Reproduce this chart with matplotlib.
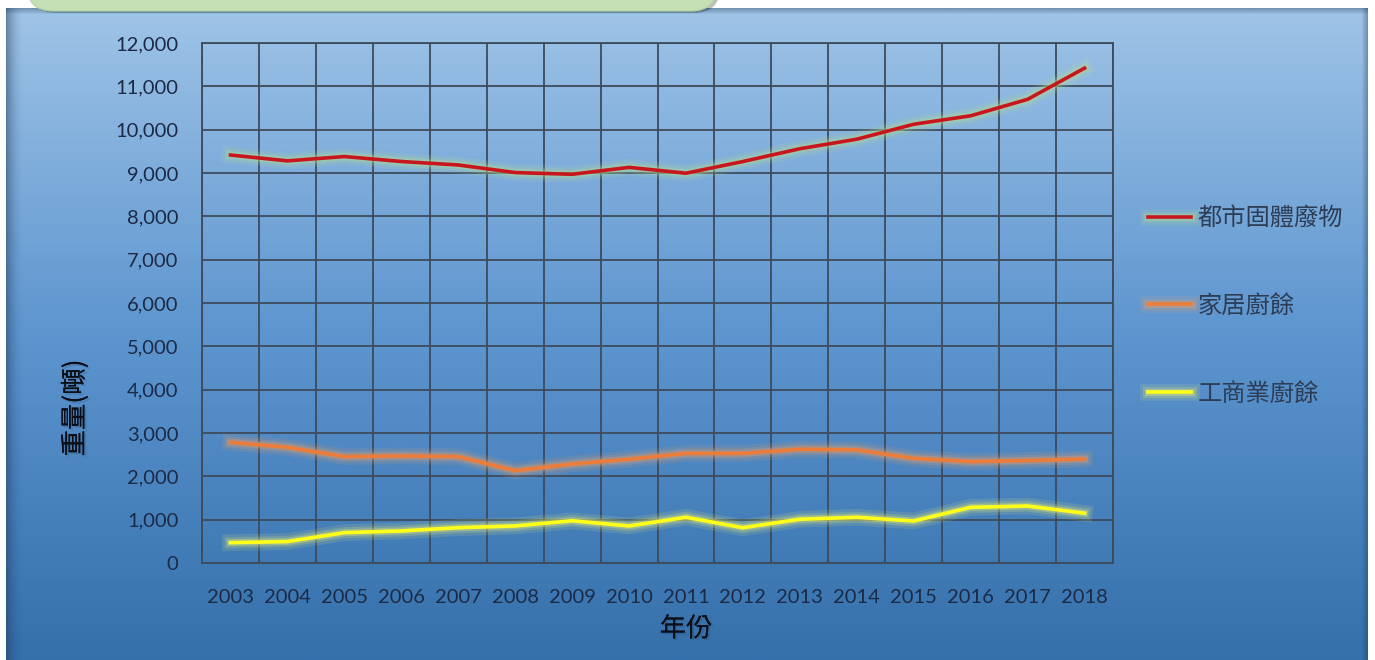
import numpy as np
import matplotlib
matplotlib.use("Agg")
import matplotlib.pyplot as plt
import matplotlib.patheffects as pe
from matplotlib.patches import FancyBboxPatch, Rectangle
from matplotlib.colors import LinearSegmentedColormap
from matplotlib.ticker import FuncFormatter, MultipleLocator

# ── Data ─────────────────────────────────────────────────────────────────────
years = ["2003", "2004", "2005", "2006", "2007", "2008", "2009", "2010",
         "2011", "2012", "2013", "2014", "2015", "2016", "2017", "2018"]
msw = [9415, 9280, 9380, 9265, 9185, 9010, 8970, 9130,
       8995, 9265, 9560, 9780, 10125, 10320, 10700, 11420]
household = [2785, 2670, 2455, 2470, 2455, 2130, 2285, 2395,
             2530, 2530, 2625, 2610, 2415, 2340, 2365, 2400]
commercial = [470, 495, 700, 740, 815, 855, 975, 855,
              1055, 815, 1010, 1055, 970, 1285, 1315, 1150]
series_names = ["都市固體廢物", "家居廚餘", "工商業廚餘"]

CJK = ["Noto Sans CJK TC", "DejaVu Sans"]
LAT = ["Lato", "Noto Sans CJK TC"]

W, H = 1375, 660
fig = plt.figure(figsize=(W / 100, H / 100), dpi=100)
fig.patch.set_facecolor("white")

# ── Background panel (pixel coordinates) ─────────────────────────────────────
bg = fig.add_axes([0, 0, 1, 1], zorder=0)
bg.set_xlim(0, W)
bg.set_ylim(H, 0)
bg.axis("off")
cmap = LinearSegmentedColormap.from_list(
    "panel", [(0, "#9FC4E7"), (0.5, "#5D95CF"), (1, "#3570AB")])
grad = np.linspace(0, 1, 256).reshape(-1, 1)
bg.imshow(grad, cmap=cmap, extent=(6, 1368, H, 8), aspect="auto", zorder=1)
# edge shading
for i in range(18):
    a = 0.45 * (1 - i / 18) ** 2
    bg.add_patch(Rectangle((6 + i, 8), 1, H, color="#1d3550", alpha=a, lw=0, zorder=2))
for i in range(6):
    a = 0.35 * (1 - i / 6)
    bg.add_patch(Rectangle((6, 8 + i), 1362, 1, color="#1d3550", alpha=a, lw=0, zorder=2))
    bg.add_patch(Rectangle((1367 - i, 8), 1, H, color="#1d3550", alpha=a, lw=0, zorder=2))
# green callout box at top
shadow = FancyBboxPatch((30, -40), 690, 53, boxstyle="round,pad=0,rounding_size=26",
                        fc="#000000", ec="none", alpha=0.25, zorder=3)
bg.add_patch(shadow)
bg.add_patch(FancyBboxPatch((27, -40), 690, 51, boxstyle="round,pad=0,rounding_size=26",
                            fc="#C5E0B4", ec="#B4D3A2", lw=0.8, zorder=4))

# ── Plot area ────────────────────────────────────────────────────────────────
ax = fig.add_axes([202 / W, 97 / H, 911 / W, 520 / H], zorder=1)
ax.patch.set_alpha(0)
x = np.arange(len(years))

styles = [
    (msw, "#C8161D", "#B8E08A"),
    (household, "#EC7C3A", "#F3A060"),
    (commercial, "#FFFF1A", "#F6F86A"),
]
for (vals, col, glow), name in zip(styles, series_names):
    ax.plot(x, vals, color=col, lw=2.6, solid_joinstyle="round", label=name, zorder=3,
            path_effects=[pe.Stroke(linewidth=12, foreground=glow, alpha=0.12),
                          pe.Stroke(linewidth=8, foreground=glow, alpha=0.18),
                          pe.Stroke(linewidth=5, foreground=glow, alpha=0.3),
                          pe.Normal()])

ax.set_xlim(-0.5, len(years) - 0.5)
ax.set_ylim(0, 12000)
ax.yaxis.set_major_locator(MultipleLocator(1000))
ax.yaxis.set_major_formatter(FuncFormatter(lambda v, p: f"{int(v):,}"))
ax.set_xticks(x)
ax.set_xticklabels(years)
ax.set_xticks(np.arange(-0.5, len(years), 1), minor=True)
ax.grid(True, which="minor", axis="x", color="#3D4B5C", lw=1.3)
ax.grid(True, which="major", axis="y", color="#3D4B5C", lw=1.3)
ax.set_axisbelow(True)
for s in ax.spines.values():
    s.set_color("#3D4B5C")
    s.set_linewidth(1.3)
ax.tick_params(which="both", length=0)
ax.tick_params(axis="x", pad=19)
ax.tick_params(axis="y", pad=17)
for lab in ax.get_xticklabels() + ax.get_yticklabels():
    lab.set_family(LAT)
    lab.set_fontsize(14.5)
    lab.set_color("#1B2A46")

# axis titles
shade = [pe.withSimplePatchShadow(offset=(1.5, -1.5), shadow_rgbFace="#1d3550", alpha=0.18),
         pe.Normal()]
fig.text(75 / W, 1 - 408 / H, "重量(噸)", rotation=90, family=CJK, fontsize=19,
         color="#0A0F18", ha="center", va="center", path_effects=shade)
fig.text(686 / W, 1 - 629 / H, "年份", family=CJK, fontsize=19,
         color="#0A0F18", ha="center", va="center", path_effects=shade)

# legend
fig.legend(loc="center left", bbox_to_anchor=(1148 / W, 1 - 306 / H), frameon=False,
           borderpad=0, borderaxespad=0, handlelength=1.75, handletextpad=0.28,
           labelspacing=2.55, prop={"family": CJK, "size": 17.5},
           labelcolor="#2C3D55")

fig.savefig("out.png", dpi=100)
